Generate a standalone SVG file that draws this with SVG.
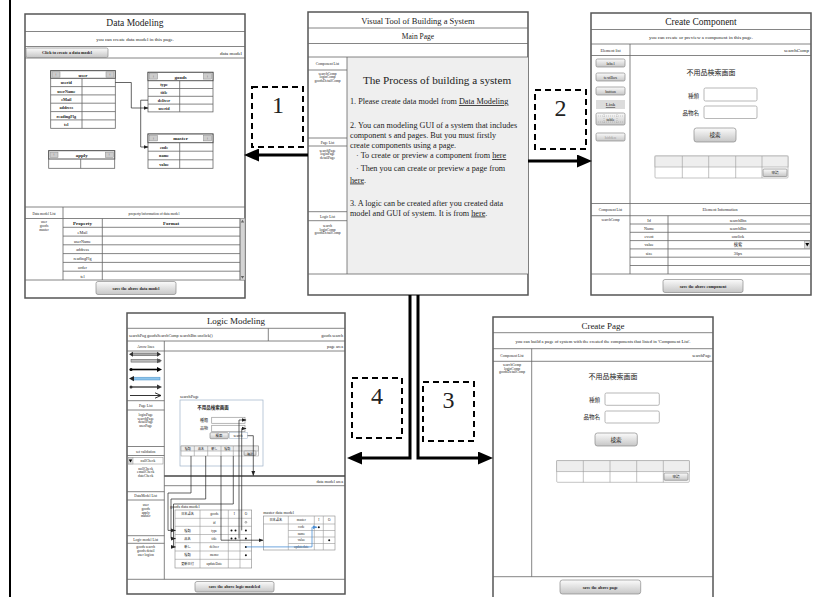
<svg xmlns="http://www.w3.org/2000/svg" width="815" height="597" viewBox="0 0 815 597">
<defs>
<linearGradient id="btn" x1="0" y1="0" x2="0" y2="1"><stop offset="0" stop-color="#fbfbfb"/><stop offset="1" stop-color="#c6c6c6"/></linearGradient>
<marker id="big" markerUnits="userSpaceOnUse" markerWidth="15" markerHeight="13" refX="3" refY="6.5" orient="auto"><path d="M0,0 L15,6.5 L0,13 z" fill="#000"/></marker>
<marker id="sm" markerUnits="userSpaceOnUse" markerWidth="5" markerHeight="5" refX="4.5" refY="2.5" orient="auto"><path d="M0,0.6 L5,2.5 L0,4.4 z" fill="#222"/></marker>
<marker id="smb" markerUnits="userSpaceOnUse" markerWidth="5" markerHeight="5" refX="4.5" refY="2.5" orient="auto"><path d="M0,0.6 L5,2.5 L0,4.4 z" fill="#4a8fd6"/></marker>
</defs>
<style>
text{font-family:"Liberation Serif","Noto Sans CJK JP",serif;fill:#222}
.c{text-anchor:middle}
.e{text-anchor:end}
.pf{fill:#fff;stroke:#555;stroke-width:1.5}
.ln{stroke:#666;stroke-width:0.8;fill:none}
.lt{stroke:#999;stroke-width:0.6;fill:none}
.tl{font-size:9.5px}
.s5{font-size:5px}
.s4{font-size:4.2px}
.s3{font-size:3.6px}
.bd{font-weight:bold}
.btn{fill:url(#btn);stroke:#8a8a8a;stroke-width:0.7}
.tb{fill:#fff;stroke:#999;stroke-width:0.7}
.cj{font-family:"Noto Sans CJK JP",sans-serif}
.db{fill:none;stroke:#000;stroke-width:2;stroke-dasharray:6,4}
.ar{stroke:#000;stroke-width:3;fill:none;marker-end:url(#big)}
.tf{fill:#fff;stroke:#666;stroke-width:0.8}
.pb{fill:#ccc;stroke:#888;stroke-width:0.5}
.sc{stroke:#222;stroke-width:0.7;fill:none;marker-end:url(#sm)}
.dn{font-size:24px}
</style>

<line x1="10" y1="0" x2="10" y2="597" stroke="#000" stroke-width="2"/>

<!-- Data Modeling -->
<g id="data-modeling">
<rect class="pf" x="25" y="14" width="220" height="284"/>
<path class="ln" d="M25,31.5H245M25,46.5H245M25,58H245M25,207H245M25,218.5H245M25,280H245M63,207V280"/>
<text class="c tl" x="135" y="26">Data Modeling</text>
<text class="c s5" x="135" y="41">you can create data model in this page.</text>
<rect class="btn" x="26" y="48" width="82" height="9.5" rx="1.5"/>
<text class="c s4 bd" x="67" y="54.3">Click to create a data model</text>
<text class="e s5" x="242" y="54.5">data model</text>

<g id="tbl-user">
<rect class="tf" x="50.7" y="70.7" width="64.6" height="57.6"/>
<rect x="50.7" y="70.7" width="64.6" height="7.6" fill="#fff" stroke="#555" stroke-width="1"/>
<rect class="pb" x="52" y="71.8" width="8" height="5.4"/><rect class="pb" x="106" y="71.8" width="8" height="5.4"/>
<text class="c s4" x="56" y="75.8">+</text><text class="c s4" x="110" y="75.8">+</text>
<text class="c s5 bd" x="83" y="76.5">user</text>
<path class="ln" d="M50.7,86.6H115.3M50.7,94.9H115.3M50.7,103.2H115.3M50.7,111.6H115.3M50.7,119.9H115.3M82,78.3V128.3"/>
<text class="c s4 bd" x="66.3" y="84.2">userid</text>
<text class="c s4 bd" x="66.3" y="92.5">userName</text>
<text class="c s4 bd" x="66.3" y="100.8">eMail</text>
<text class="c s4 bd" x="66.3" y="109.1">address</text>
<text class="c s4 bd" x="66.3" y="117.5">readingFlg</text>
<text class="c s4 bd" x="66.3" y="125.8">tel</text>
</g>
<g id="tbl-goods">
<rect class="tf" x="148" y="72.3" width="65" height="39.6"/>
<rect x="148" y="72.3" width="65" height="8.4" fill="#fff" stroke="#555" stroke-width="1"/>
<rect class="pb" x="149.5" y="73.7" width="8" height="5.4"/><rect class="pb" x="203.5" y="73.7" width="8" height="5.4"/>
<text class="c s4" x="153.5" y="77.7">+</text><text class="c s4" x="207.5" y="77.7">+</text>
<text class="c s5 bd" x="180.5" y="78.5">goods</text>
<path class="ln" d="M148,88.5H213M148,96.3H213M148,104.1H213M179.7,80.7V111.9"/>
<text class="c s4 bd" x="164" y="86.3">type</text>
<text class="c s4 bd" x="164" y="94.1">title</text>
<text class="c s4 bd" x="164" y="101.9">deliver</text>
<text class="c s4 bd" x="164" y="109.7">userid</text>
</g>
<g id="tbl-master">
<rect class="tf" x="148" y="134" width="65" height="34.3"/>
<rect x="148" y="134" width="65" height="8.7" fill="#fff" stroke="#555" stroke-width="1"/>
<rect class="pb" x="149.5" y="135.5" width="8" height="5.4"/><rect class="pb" x="203.5" y="135.5" width="8" height="5.4"/>
<text class="c s4" x="153.5" y="139.5">+</text><text class="c s4" x="207.5" y="139.5">+</text>
<text class="c s5 bd" x="180.5" y="140.4">master</text>
<path class="ln" d="M148,151.2H213M148,159.8H213M179.7,142.7V168.3"/>
<text class="c s4 bd" x="164" y="148.6">code</text>
<text class="c s4 bd" x="164" y="157.1">name</text>
<text class="c s4 bd" x="164" y="165.7">value</text>
</g>
<g id="tbl-apply">
<rect class="tf" x="48.7" y="150.7" width="66" height="17.6"/>
<rect x="48.7" y="150.7" width="66" height="8.3" fill="#fff" stroke="#555" stroke-width="1"/>
<rect class="pb" x="50" y="152.1" width="8" height="5.4"/><rect class="pb" x="105.3" y="152.1" width="8" height="5.4"/>
<text class="c s4" x="54" y="156.1">+</text><text class="c s4" x="109.3" y="156.1">+</text>
<text class="c s5 bd" x="81.7" y="157">apply</text>
<path class="ln" d="M80.7,159V168.3"/>
</g>
<path class="sc" d="M115.3,82.5H131.3V108H148"/>
<path class="sc" d="M148,100.2H140.7V147H148"/>

<text class="c s3" x="44" y="214.5">Data model List</text>
<text class="c s3" x="154" y="214.5">property/information of data model</text>
<text class="c s3" x="44" y="223">user</text>
<text class="c s3" x="44" y="227">goods</text>
<text class="c s3" x="44" y="231">master</text>
<rect x="240" y="218.5" width="5" height="61.5" fill="#d4d4d4" stroke="#999" stroke-width="0.5"/>
<path d="M240.8,222.5L242.5,219.8L244.2,222.5z M240.8,276L242.5,278.7L244.2,276z" fill="#666"/>
<path class="ln" d="M63,227.3H240M63,236.1H240M63,244.8H240M63,253.6H240M63,262.4H240M63,271.2H240M102.3,218.5V280M240,218.5V280"/>
<text class="c s5 bd" x="82.5" y="225.2">Property</text>
<text class="c s5 bd" x="171" y="225.2">Format</text>
<text class="c s4" x="82.5" y="233.8">eMail</text>
<text class="c s4" x="82.5" y="242.6">userName</text>
<text class="c s4" x="82.5" y="251.3">address</text>
<text class="c s4" x="82.5" y="260.1">readingFlg</text>
<text class="c s4" x="82.5" y="268.9">order</text>
<text class="c s4" x="82.5" y="277.7">tel</text>
<rect class="btn" x="96" y="281.5" width="80" height="13" rx="2"/>
<text class="c s4 bd" x="136" y="289.5">save the above data model</text>
</g>

<!-- Main page -->
<g id="main-page">
<rect class="pf" x="308" y="12" width="220" height="283"/>
<rect x="347" y="57" width="181" height="217" fill="#efefef"/>
<path class="ln" d="M308,28H528M308,43.5H528M308,57H528M308,274H528M347,57V274M308,70H347M308,138H347M308,146H347M308,211.7H347M308,220.7H347"/>
<text class="c" x="418" y="23.5" font-size="8.5">Visual Tool of Building a System</text>
<text class="c" x="418" y="38.5" font-size="7.5">Main Page</text>
<text class="c s3" x="327.5" y="65">Component List</text>
<text class="c s3" x="327.5" y="74.5">searchComp</text>
<text class="c s3" x="327.5" y="78">loginComp</text>
<text class="c s3" x="327.5" y="81.5">goodsDetailComp</text>
<text class="c s3" x="327.5" y="143.5">Page List</text>
<text class="c s3" x="327.5" y="151.5">searchPage</text>
<text class="c s3" x="327.5" y="155">loginPage</text>
<text class="c s3" x="327.5" y="158.5">detailPage</text>
<text class="c s3" x="327.5" y="217.5">Logic List</text>
<text class="c s3" x="327.5" y="227">search</text>
<text class="c s3" x="327.5" y="230.5">loginComp</text>
<text class="c s3" x="327.5" y="234">goodsDetailComp</text>
<text class="c" x="437" y="84" font-size="11.2">The Process of building a system</text>
<g font-size="8.2">
<text x="350" y="104">1. Please create data model from <tspan style="text-decoration:underline">Data Modeling</tspan></text>
<text x="350" y="128">2.  You can modeling GUI of a system that includes</text>
<text x="350" y="138">component s and pages. But you must firstly</text>
<text x="350" y="147.5">create components using a page.</text>
<text x="356" y="158">· To create or preview a component from <tspan style="text-decoration:underline">here</tspan></text>
<text x="356" y="170.5">· Then you can create or preview a page from</text>
<text x="350" y="182.5"><tspan style="text-decoration:underline">here</tspan>.</text>
<text x="350" y="206">3. A logic can be created after you created data</text>
<text x="350" y="215.5">model and GUI of system.  It is from <tspan style="text-decoration:underline">here</tspan>.</text>
</g>
</g>

<!-- Create Component -->
<g id="create-component">
<rect class="pf" x="591" y="13" width="220" height="282"/>
<path class="ln" d="M591,29.5H811M591,44H811M591,55.5H811M591,203.5H811M591,215.7H811M591,274H811M630,44V274"/>
<text class="c tl" x="701" y="25">Create Component</text>
<text class="c s5" x="701" y="39">you can create or preview a component in this page.</text>
<text class="c s4" x="610.5" y="51.5">Element list</text>
<text class="e s5" x="809" y="51.8">searchComp</text>
<rect class="btn" x="596" y="59" width="29" height="8" rx="1.5"/><text class="c s4" x="610.5" y="64.5">label</text>
<rect class="btn" x="596" y="73" width="29" height="8" rx="1.5"/><text class="c s4" x="610.5" y="78.5">textBox</text>
<rect class="btn" x="596" y="87" width="29" height="8" rx="1.5"/><text class="c s4" x="610.5" y="92.5">button</text>
<rect x="596" y="100" width="29" height="9" fill="#dcdcdc"/><text class="c s5" x="610.5" y="106.3" style="text-decoration:underline">Link</text>
<rect class="btn" x="596" y="113" width="29" height="12" rx="1.5"/>
<path d="M598,116H623M598,122H623M604,114V124M617,114V124" stroke="#888" stroke-width="0.4" stroke-dasharray="1,1"/>
<text class="c s4" x="610.5" y="120.5">table</text>
<rect class="btn" x="596" y="133" width="29" height="8" rx="1.5"/><text class="c s4" x="610.5" y="138.5" fill="#999" style="fill:#999">hidden</text>
<text class="c cj" x="711" y="75" font-size="7">不用品検索画面</text>
<text class="e cj" x="699" y="97.5" font-size="5.5">種類</text>
<rect class="tb" x="704" y="88" width="53" height="13" rx="1.5"/>
<text class="e cj" x="699" y="114.5" font-size="5.5">品物名</text>
<rect class="tb" x="704" y="106" width="53" height="12.5" rx="1.5"/>
<rect class="btn" x="694" y="128" width="42" height="14" rx="2.5"/>
<text class="c cj" x="715" y="137" font-size="5.5">検索</text>
<rect x="655" y="156" width="133" height="22" fill="#fff" stroke="#aaa" stroke-width="0.7" rx="1"/>
<rect x="655" y="156" width="133" height="11" fill="#eee" stroke="#aaa" stroke-width="0.7"/>
<path class="lt" d="M682.3,156V178M708.7,156V178M735.7,156V178M762,156V178"/>
<rect class="btn" x="763" y="169" width="24" height="7.5" rx="1"/>
<text class="c cj" x="775" y="174.2" font-size="3.6">申請</text>
<text class="c s3" x="610.5" y="211.2">Component List</text>
<text class="c s4" x="720" y="211.2">Element Information</text>
<text class="c s3" x="610.5" y="221">searchComp</text>
<path class="ln" d="M630,224H810M630,232.3H810M630,240.6H810M630,248.9H810M630,257.2H810M630,265.5H810M668,215.7V274"/>
<rect x="804.5" y="241" width="5.5" height="7.5" fill="#ddd" stroke="#777" stroke-width="0.4"/>
<path d="M805.3,243L809.2,243L807.25,246.5z" fill="#000"/>
<text class="c s4" x="649" y="221.5">Id</text>
<text class="c s4" x="649" y="229.8">Name</text>
<text class="c s4" x="649" y="238.1">event</text>
<text class="c s4" x="649" y="246.4">value</text>
<text class="c s4" x="649" y="254.7">size</text>
<text class="c s4" x="738" y="221.5">searchBtn</text>
<text class="c s4" x="738" y="229.8">searchBtn</text>
<text class="c s4" x="738" y="238.1">onclick</text>
<text class="c s4" x="738" y="246.4">検索</text>
<text class="c s4" x="738" y="254.7">30px</text>
<rect class="btn" x="663" y="279.5" width="80" height="13" rx="2"/>
<text class="c s4 bd" x="703" y="287.5">save the above component</text>
</g>

<!-- Logic Modeling -->
<g id="logic-modeling">
<rect class="pf" x="127" y="313" width="218" height="281"/>
<path class="ln" d="M127,328.3H345M127,341H345M127,351H345M127,579.3H345M164.3,341V579.3M268.3,328.3V341M127,400.7H164.3M127,410H164.3M127,446.5H164.3M127,455.5H164.3M127,491.7H164.3M127,500H164.3M127,535.7H164.3M127,543.3H164.3M164.3,485.7H345"/>
<path d="M164.3,476H345" stroke="#444" stroke-width="1.3"/>
<text class="c" x="236" y="324" font-size="9">Logic Modeling</text>
<text class="s4" x="129" y="336.5">searchPag goodsSearchComp searchBtn onclick()</text>
<text class="e s4" x="343" y="336.5">goods search</text>
<text class="c s3" x="145.7" y="347.5">Arrow lines</text>
<text class="e s4" x="343" y="347.8">page area</text>
<rect x="132" y="353" width="26" height="2.6" fill="#aaa" stroke="#444" stroke-width="0.5"/>
<path d="M129,354.3L133,351.8L133,356.8z M161,354.3L157,351.8L157,356.8z" fill="#333"/>
<rect x="131" y="359.3" width="29" height="2.8" fill="#bbb" stroke="#555" stroke-width="0.5"/>
<path d="M157,358.2L162,360.7L157,363.2z" fill="#555"/>
<path d="M131,369.5H158" stroke="#000" stroke-width="1.6"/>
<circle cx="131" cy="369.5" r="1.6" fill="#000"/><path d="M157,367L162,369.5L157,372z" fill="#000"/>
<rect x="132" y="377.2" width="28" height="2.8" fill="#8cc4ec" stroke="#4a90c8" stroke-width="0.5"/>
<path d="M134,376L129,378.6L134,381.2z" fill="#222"/>
<path d="M131,387H158" stroke="#333" stroke-width="1.3"/>
<circle cx="131" cy="387" r="1.5" fill="#333"/><path d="M157,384.6L162,387L157,389.4z" fill="#333"/>
<path d="M130,395.5H160M155,392.8L161,395.5L155,398.2" stroke="#000" stroke-width="0.8" fill="none"/>
<text class="c s3" x="145.7" y="406.5">Page List</text>
<text class="c s3" x="145.7" y="416">loginPage</text>
<text class="c s3" x="145.7" y="419.5">searchPage</text>
<text class="c s3" x="145.7" y="423">detailPage</text>
<text class="c s3" x="145.7" y="426.5">userPage</text>
<text class="c s3" x="145.7" y="452.5">set validation</text>
<rect x="128" y="457.5" width="35" height="6.5" fill="#fff" stroke="#888" stroke-width="0.5"/>
<rect x="128" y="457.5" width="5" height="6.5" fill="#ddd" stroke="#888" stroke-width="0.4"/>
<path d="M128.8,459.5L132.2,459.5L130.5,462.5z" fill="#000"/>
<text class="c s3" x="148" y="462.3">nullCheck</text>
<text class="c s3" x="145.7" y="469.5">nullCheck</text>
<text class="c s3" x="145.7" y="473">emailCheck</text>
<text class="c s3" x="145.7" y="476.5">dateCheck</text>
<text class="c s3" x="145.7" y="497.3">DataModel List</text>
<text class="c s3" x="145.7" y="506">user</text>
<text class="c s3" x="145.7" y="509.8">goods</text>
<text class="c s3" x="145.7" y="513.6">apply</text>
<text class="c s3" x="145.7" y="517.4">master</text>
<text class="c s3" x="145.7" y="541">Logic model List</text>
<text class="c s3" x="145.7" y="548">goods search</text>
<text class="c s3" x="145.7" y="552">goods detail</text>
<text class="c s3" x="145.7" y="556">user logion</text>
<text class="e s4" x="343" y="482.5">data model area</text>

<text class="s4" x="180" y="398">searchPage</text>
<rect x="180" y="400" width="83" height="66" fill="#fff" stroke="#9fb3c8" stroke-width="0.7"/>
<text class="c cj bd" x="213" y="408.5" font-size="4.5">不用品検索画面</text>
<text class="e cj" x="208" y="421.8" font-size="4">種類</text>
<rect class="tb" x="211.7" y="417.3" width="33.3" height="6"/>
<text class="e cj" x="208" y="430" font-size="4">品物</text>
<rect class="tb" x="211.7" y="425.3" width="33.3" height="6.4"/>
<rect class="btn" x="210" y="432.7" width="18.3" height="6" rx="1"/>
<text class="c cj" x="219" y="437.2" font-size="3.4">検索</text>
<rect x="229.5" y="432.7" width="18" height="6" fill="#fff" stroke="#9fb3c8" stroke-width="0.5"/>
<text class="c s3" x="238" y="437">search</text>
<rect x="181" y="446" width="77.3" height="10" fill="#fff" stroke="#999" stroke-width="0.6"/>
<rect x="181" y="446" width="77.3" height="5" fill="#eee" stroke="#999" stroke-width="0.6"/>
<path class="lt" d="M194.3,446V456M207.7,446V456M221,446V456M233.3,446V456"/>
<text class="c cj" x="187.7" y="450.2" font-size="3">種類</text>
<text class="c cj" x="201" y="450.2" font-size="3">品名</text>
<text class="c cj" x="214.3" y="450.2" font-size="3">新し</text>
<text class="c cj" x="227.2" y="450.2" font-size="3">種類</text>
<rect class="btn" x="244" y="451" width="12" height="4.5" rx="0.8"/>
<text class="c cj" x="250" y="454.5" font-size="2.8">確認</text>

<text class="s4" x="170" y="508">goods data model</text>
<rect x="175" y="510" width="76.7" height="58" fill="#fff" stroke="#888" stroke-width="0.6"/>
<path class="lt" d="M175,518.3H251.7M175,526.3H251.7M175,534.5H251.7M175,542.7H251.7M175,551H251.7M175,559.3H251.7M200,510V568M228.3,510V568M240,510V568"/>
<g class="cj" font-size="3.2">
<text class="c" x="187.5" y="515.4">日本語名</text>
<text class="c" x="187.5" y="531.6">種類</text>
<text class="c" x="187.5" y="539.8">品名</text>
<text class="c" x="187.5" y="548">新し</text>
<text class="c" x="187.5" y="556.3">種類</text>
<text class="c" x="187.5" y="564.8">更新日付</text>
</g>
<g font-size="3.4">
<text class="c" x="214.2" y="515.4">goods</text>
<text class="c" x="214.2" y="523.5">id</text>
<text class="c" x="214.2" y="531.6">type</text>
<text class="c" x="214.2" y="539.8">title</text>
<text class="c" x="214.2" y="548">deliver</text>
<text class="c" x="214.2" y="556.3">memo</text>
<text class="c" x="214.2" y="564.8">updateDate</text>
<text class="c" x="234.2" y="515.4">I</text>
<text class="c" x="245.9" y="515.4">O</text>
</g>
<circle cx="245.9" cy="522.3" r="0.9" fill="none" stroke="#333" stroke-width="0.4"/>
<g fill="#111">
<circle cx="231.5" cy="530.4" r="1"/><circle cx="235.5" cy="530.4" r="1"/>
<circle cx="231.5" cy="538.6" r="1"/><circle cx="235.5" cy="538.6" r="1"/>
<circle cx="245.9" cy="530.4" r="1"/><circle cx="245.9" cy="538.6" r="1"/>
<circle cx="245.9" cy="546.9" r="1"/><circle cx="245.9" cy="555.2" r="1"/>
</g>

<text class="s4" x="263.3" y="514">master data model</text>
<rect x="263.3" y="516" width="71.7" height="34" fill="#fff" stroke="#888" stroke-width="0.6"/>
<path class="lt" d="M263.3,524H335M288.3,530.5H335M288.3,537H335M288.3,543.5H335M288.3,516V550M314.3,516V550M323.3,516V550"/>
<text class="c cj" x="275.8" y="521.3" font-size="3.2">日本語名</text>
<g font-size="3.4">
<text class="c" x="301.3" y="521.3">master</text>
<text class="c" x="318.8" y="521.3">I</text>
<text class="c" x="329.2" y="521.3">O</text>
<text class="c" x="301.3" y="528.4">code</text>
<text class="c" x="301.3" y="534.9">name</text>
<text class="c" x="301.3" y="541.4">value</text>
<text class="c" x="301.3" y="547.9">updatedate</text>
</g>
<circle cx="318.8" cy="527.2" r="1" fill="#111"/>
<circle cx="329.2" cy="540.2" r="1" fill="#111"/>

<g id="logic-links">
<path class="sc" d="M191,456V493H168V530.4H175.5"/>
<path class="sc" d="M205.7,456V499H171V538.6H175.5"/>
<path class="sc" d="M233.3,456V504H173.5V546.9H175.5"/>
<path class="sc" d="M221,456V540.2H263"/>
<path class="sc" d="M239,538.6V420H246"/>
<path class="sc" d="M241.7,530.4V428.5H246"/>
<path class="sc" d="M247.5,435.7H253.3V475.5"/>
<path d="M246,546.9H312V527.2H317" fill="none" stroke="#4a8fd6" stroke-width="0.8" marker-end="url(#smb)"/>
</g>
<rect class="btn" x="195" y="581.5" width="79" height="10.5" rx="2"/>
<text class="c s4 bd" x="234.5" y="588.3">save the above logic modeled</text>
</g>

<!-- Create Page -->
<g id="create-page">
<rect class="pf" x="493" y="317" width="220" height="282"/>
<path class="ln" d="M493,332.7H713M493,348.7H713M493,361.3H713M493,576.7H713M531.7,348.7V576.7"/>
<text class="c" x="603" y="328.5" font-size="9">Create Page</text>
<text class="c" x="603" y="343" font-size="4.6">you can build a page of system with the created the components that listed in 'Component List'.</text>
<text class="c s3" x="512" y="356.5">Component List</text>
<text class="e s4" x="711" y="356.8">searchPage</text>
<text class="c s3" x="512" y="366">searchComp</text>
<text class="c s3" x="512" y="369.5">loginComp</text>
<text class="c s3" x="512" y="373">goodsDetailComp</text>
<text class="c cj" x="613" y="378.5" font-size="7">不用品検索画面</text>
<text class="e cj" x="600" y="401.5" font-size="5.5">種類</text>
<rect class="tb" x="605" y="393" width="54.3" height="12.3" rx="1.5"/>
<text class="e cj" x="600" y="419.3" font-size="5.5">品物名</text>
<rect class="tb" x="605" y="411" width="54.3" height="12" rx="1.5"/>
<rect class="btn" x="595" y="433" width="42.3" height="13" rx="2.5"/>
<text class="c cj" x="616" y="441.8" font-size="5.5">検索</text>
<rect x="556.7" y="460.7" width="132.6" height="21.6" fill="#fff" stroke="#aaa" stroke-width="0.7" rx="1"/>
<rect x="556.7" y="460.7" width="132.6" height="11" fill="#eee" stroke="#aaa" stroke-width="0.7"/>
<path class="lt" d="M583.3,460.7V482.3M610,460.7V482.3M636.7,460.7V482.3M663.3,460.7V482.3"/>
<rect class="btn" x="664" y="473" width="24" height="7.3" rx="1"/>
<text class="c cj" x="676" y="478.2" font-size="3.6">申請</text>
<rect class="btn" x="560" y="580" width="80.7" height="14" rx="2.5"/>
<text class="c s4 bd" x="600.3" y="588.5">save the above page</text>
</g>

<!-- Connectors -->
<g id="connectors">
<path class="ar" d="M308,155H256"/>
<path class="ar" d="M528,161H580"/>
<path class="ar" d="M410,295V458H359"/>
<path class="ar" d="M418,295V458H481"/>
<rect class="db" x="252" y="87" width="51" height="60"/>
<text class="c dn" x="278" y="113">1</text>
<rect class="db" x="535" y="90" width="51" height="59"/>
<text class="c dn" x="560.5" y="116">2</text>
<rect class="db" x="352" y="378" width="50" height="60"/>
<text class="c dn" x="377" y="404">4</text>
<rect class="db" x="423" y="382" width="51" height="59"/>
<text class="c dn" x="448.5" y="408">3</text>
</g>
</svg>
